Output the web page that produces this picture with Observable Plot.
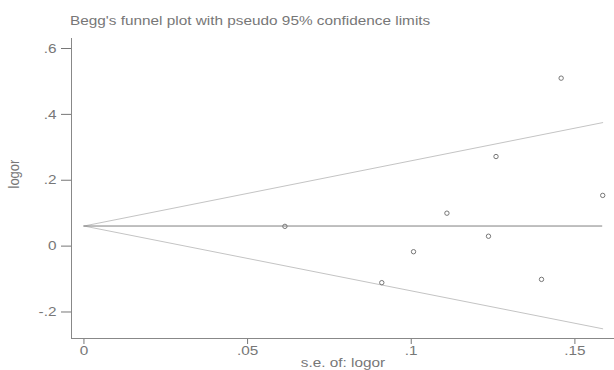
<!DOCTYPE html>
<html>
<head>
<meta charset="utf-8">
<script src="https://cdn.jsdelivr.net/npm/d3@7"></script>
<script src="https://cdn.jsdelivr.net/npm/@observablehq/plot@0.6"></script>
<style>
  body { margin: 0; background: #fff; }
  #wrap { width: 614px; height: 370px; position: relative; overflow: hidden; }
  #title { position: absolute; left: 70px; top: 13px; font: 13px "Liberation Sans", Arial, sans-serif; color: #777;
           white-space: nowrap; transform: scaleX(1.18); transform-origin: 0 0; }
  #chart { position: absolute; left: 0; top: 34px; }
</style>
</head>
<body>
<div id="wrap">
  <div id="title">Begg's funnel plot with pseudo 95% confidence limits</div>
  <div id="chart"></div>
</div>
<script>
// study points: standard error of logor and logor
const se    = [0.0614, 0.0910, 0.1007, 0.1109, 0.1236, 0.1259, 0.1398, 0.1458, 0.1585];
const logor = [0.060, -0.111, -0.017, 0.100, 0.030, 0.272, -0.101, 0.510, 0.154];

// pseudo 95% confidence limits (end points)
const limitSe    = [0, 0.1585];
const limitUpper = [0.061, 0.375];
const limitLower = [0.061, -0.251];
const pooled     = 0.061;

// axes
const xTicks = [0, 0.05, 0.1, 0.15];
const xTickLabels = ["0", ".05", ".1", ".15"];
const yTicks = [-0.2, 0, 0.2, 0.4, 0.6];
const yTickLabels = ["-.2", "0", ".2", ".4", ".6"];
const xLabel = "s.e. of: logor";
const yLabel = "logor";

const points = se.map((s, i) => ({se: s, logor: logor[i]}));
const upper = limitSe.map((s, i) => ({se: s, v: limitUpper[i]}));
const lower = limitSe.map((s, i) => ({se: s, v: limitLower[i]}));

const xDomain = [-0.0038, 0.1621];
const yDomain = [-0.2805, 0.6304];

const chart = Plot.plot({
  width: 614,
  height: 336,
  marginLeft: 71,
  marginRight: 0,
  marginTop: 4,
  marginBottom: 32,
  style: {fontFamily: "'Liberation Sans', Arial, sans-serif", fontSize: "13px", color: "#777", background: "#fff"},
  x: {domain: xDomain, ticks: xTicks, tickFormat: d => xTickLabels[xTicks.indexOf(d)], tickSize: 6, tickPadding: 1, label: null},
  y: {domain: yDomain, ticks: yTicks, tickFormat: d => yTickLabels[yTicks.indexOf(d)], tickSize: 10, tickPadding: 5, label: null},
  marks: [
    Plot.ruleX([xDomain[0]], {stroke: "#888"}),
    Plot.ruleY([yDomain[0]], {stroke: "#888"}),
    Plot.line(upper, {x: "se", y: "v", stroke: "#c4c4c4", strokeWidth: 1}),
    Plot.line(lower, {x: "se", y: "v", stroke: "#c4c4c4", strokeWidth: 1}),
    Plot.ruleY([pooled], {x1: limitSe[0], x2: limitSe[1], stroke: "#808080", strokeWidth: 1}),
    Plot.dot(points, {x: "se", y: "logor", r: 2.2, stroke: "#777", strokeWidth: 1, fill: "none"}),
    Plot.text([xLabel], {frameAnchor: "bottom", lineAnchor: "middle", dy: 24, fill: "#777", fontSize: 13}),
    Plot.text([yLabel], {frameAnchor: "left", rotate: -90, lineAnchor: "middle", dx: -57, fill: "#777", fontSize: 13})
  ]
});

// the reference picture is stretched horizontally: widen every text the same way
chart.querySelectorAll("text").forEach(t => {
  let tr = t.getAttribute("transform") || "";
  const x = t.getAttribute("x");
  if (x != null) { tr += ` translate(${x},0)`; t.setAttribute("x", 0); }
  tr += /rotate/.test(tr) ? " scale(1,1.18)" : " scale(1.18,1)";
  t.setAttribute("transform", tr.trim());
});
document.getElementById("chart").appendChild(chart);
</script>
</body>
</html>
